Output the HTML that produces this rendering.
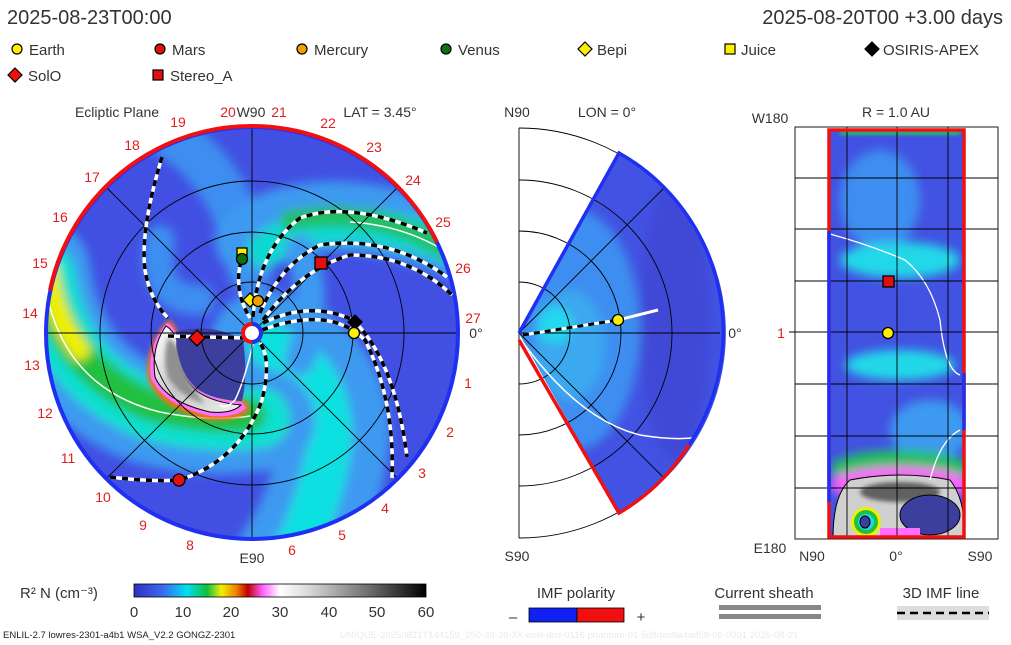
<!DOCTYPE html>
<html><head><meta charset="utf-8"><style>
html,body{margin:0;padding:0;background:#fff;}
svg{display:block;font-family:"Liberation Sans",sans-serif;}
</style></head><body>
<svg width="1011" height="645" viewBox="0 0 1011 645" xmlns="http://www.w3.org/2000/svg">
<defs>
<clipPath id="cc"><circle cx="252" cy="333" r="206"/></clipPath>
<clipPath id="wc"><path d="M519 333 L619 153 A205 205 0 0 1 619 513 Z"/></clipPath>
<clipPath id="rc"><rect x="828" y="129" width="137" height="409"/></clipPath>
<filter id="bl" x="-20%" y="-20%" width="140%" height="140%"><feGaussianBlur stdDeviation="5"/></filter>
<filter id="bl2" x="-20%" y="-20%" width="140%" height="140%"><feGaussianBlur stdDeviation="2"/></filter>
<linearGradient id="cb" x1="0" x2="1">
<stop offset="0" stop-color="#3030c0"/><stop offset="0.1" stop-color="#3a6af0"/><stop offset="0.18" stop-color="#00e0f0"/><stop offset="0.25" stop-color="#10c040"/><stop offset="0.3" stop-color="#f0f000"/><stop offset="0.35" stop-color="#f08000"/><stop offset="0.39" stop-color="#c00000"/><stop offset="0.44" stop-color="#ff60ff"/><stop offset="0.5" stop-color="#ffffff"/><stop offset="0.6" stop-color="#d8d8d8"/><stop offset="0.8" stop-color="#707070"/><stop offset="1" stop-color="#000"/>
</linearGradient>
<linearGradient id="cr" x1="0" y1="0" x2="1" y2="1">
<stop offset="0" stop-color="#ffffff"/><stop offset="0.5" stop-color="#c8c8c8"/><stop offset="1" stop-color="#f0f0f0"/>
</linearGradient>
</defs>
<g fill="#333" font-size="20">
<text x="7" y="24">2025-08-23T00:00</text>
<text x="1003" y="24" text-anchor="end">2025-08-20T00 +3.00 days</text>
</g>
<g font-size="15" fill="#222" stroke="#000" stroke-width="1.2">
<circle cx="17" cy="49" r="5" fill="#ffee00"/><circle cx="160" cy="49" r="5" fill="#e01010"/><circle cx="302" cy="49" r="5" fill="#f0a000"/><circle cx="446" cy="49" r="5" fill="#107010"/>
<path d="M585 42 L592 49 L585 56 L578 49Z" fill="#ffee00"/><rect x="725" y="44" width="10" height="10" fill="#ffee00"/><path d="M872 42 L879 49 L872 56 L865 49Z" fill="#000"/>
<path d="M15 68 L22 75 L15 82 L8 75Z" fill="#f01010"/><rect x="153" y="70" width="10" height="10" fill="#e01010"/>
</g>
<g font-size="15" fill="#333">
<text x="29" y="55">Earth</text><text x="172" y="55">Mars</text><text x="314" y="55">Mercury</text><text x="458" y="55">Venus</text><text x="597" y="55">Bepi</text><text x="741" y="55">Juice</text><text x="883" y="55">OSIRIS-APEX</text>
<text x="28" y="81">SolO</text><text x="170" y="81">Stereo_A</text>
</g>

<!-- LEFT PANEL -->
<g clip-path="url(#cc)">
<circle cx="252" cy="333" r="207" fill="#4150e2"/>
<g filter="url(#bl)" fill="none" stroke-linecap="round">
<path d="M160 130 Q235 170 250 270" stroke="#3e8ef0" stroke-width="45"/>
<path d="M250 240 Q320 190 460 245" stroke="#3e9af0" stroke-width="70"/>
<path d="M265 250 Q330 200 460 250" stroke="#10d8d0" stroke-width="35"/>
<path d="M290 220 Q380 205 455 255" stroke="#20c060" stroke-width="20"/>
<path d="M265 345 Q335 365 335 440 Q325 510 290 560" stroke="#3e9af0" stroke-width="110"/>
<path d="M270 345 Q330 370 330 440 Q320 510 290 560" stroke="#10e0e0" stroke-width="45"/>
<path d="M300 360 Q320 300 300 250" stroke="#3e9af0" stroke-width="30"/>
<path d="M40 270 Q55 380 150 415 Q210 430 265 420" stroke="#3e9af0" stroke-width="100"/>
<path d="M45 275 Q60 375 150 410 Q210 425 260 418" stroke="#10e0d0" stroke-width="60"/>
<path d="M45 280 Q65 370 150 405 Q205 420 250 415" stroke="#20c040" stroke-width="32"/>
<path d="M48 270 Q55 320 80 350" stroke="#f0f000" stroke-width="20"/>
<path d="M160 240 Q150 300 200 300" stroke="#3e8ef0" stroke-width="30"/>
</g>
<path d="M48 300 Q70 390 160 412 Q210 422 250 416" fill="none" stroke="#fff" stroke-width="1.5"/>
<path d="M350 222 Q400 225 440 248" fill="none" stroke="#fff" stroke-width="1.5"/>
<!-- CME -->
<path d="M168 320 Q144 345 148 380 Q160 410 210 420 Q238 422 250 410 L246 400 Q220 402 200 392 Q175 375 178 335 Q175 322 168 320Z" fill="#f07020" filter="url(#bl2)"/>
<path d="M167 323 Q147 345 151 378 Q163 405 210 416 Q236 418 246 408 L242 402 Q215 400 198 390 Q176 372 178 338 Q174 326 167 323Z" fill="#ff70ff"/>
<path d="M166 326 Q151 347 155 377 Q166 402 210 412 Q232 414 241 405 Q215 403 198 392 Q175 373 177 340 Q173 330 166 326Z" fill="url(#cr)" stroke="#000" stroke-width="1"/>
<path d="M168 338 Q162 360 168 378 Q180 396 205 404 Q188 385 184 365 Q180 345 168 338Z" fill="#909090" filter="url(#bl2)"/>
<path d="M176 332 Q210 322 243 340 Q248 375 242 401 Q212 400 196 388 Q176 370 176 332Z" fill="#3c3f9e"/>
<path d="M255 335 Q245 380 235 400 Q225 410 220 405" fill="none" stroke="#fff" stroke-width="1.5"/>
</g>
<!-- grid -->
<g fill="none" stroke="#000" stroke-width="0.9">
<circle cx="252" cy="333" r="51"/><circle cx="252" cy="333" r="101"/><circle cx="252" cy="333" r="152"/>
<line x1="45" y1="333" x2="459" y2="333"/><line x1="252" y1="126" x2="252" y2="540"/>
<line x1="106" y1="187" x2="398" y2="479"/><line x1="106" y1="479" x2="398" y2="187"/>
</g>
<circle cx="252" cy="333" r="206" fill="none" stroke="#2030f0" stroke-width="4"/>
<path d="M50 290 A206 206 0 0 1 437 242" fill="none" stroke="#f01010" stroke-width="4"/>
<g fill="none" stroke-width="3.5">
<g stroke="#fff">
<path d="M162 157 Q140 230 145 270 Q150 300 168 318"/>
<path d="M168 336 L243 338"/>
<path d="M110 477 Q150 482 180 480 Q240 460 262 400 Q272 360 260 343"/>
<path d="M245 250 Q230 285 250 318"/>
<path d="M253 317 Q258 250 300 218 Q350 200 427 233"/>
<path d="M260 313 Q280 265 320 245 Q390 235 447 277"/>
<path d="M263 320 Q300 270 350 255 Q410 255 452 295"/>
<path d="M263 323 Q310 300 353 320 Q395 360 407 457"/>
<path d="M262 330 Q330 305 365 340 Q395 400 392 478"/>
</g>
<g stroke="#000" stroke-dasharray="6 6">
<path d="M162 157 Q140 230 145 270 Q150 300 168 318"/>
<path d="M168 336 L243 338"/>
<path d="M110 477 Q150 482 180 480 Q240 460 262 400 Q272 360 260 343"/>
<path d="M245 250 Q230 285 250 318"/>
<path d="M253 317 Q258 250 300 218 Q350 200 427 233"/>
<path d="M260 313 Q280 265 320 245 Q390 235 447 277"/>
<path d="M263 320 Q300 270 350 255 Q410 255 452 295"/>
<path d="M263 323 Q310 300 353 320 Q395 360 407 457"/>
<path d="M262 330 Q330 305 365 340 Q395 400 392 478"/>
</g>
</g>
<circle cx="252" cy="333" r="9" fill="#fff" stroke="#f01010" stroke-width="4"/>
<path d="M252 324 A9 9 0 0 1 252 342" fill="none" stroke="#2030f0" stroke-width="4"/>
<g stroke="#000" stroke-width="1.3">
<rect x="237" y="248" width="10" height="9" fill="#ffee00"/>
<circle cx="242" cy="259" r="5.5" fill="#107010"/>
<path d="M250 293 L257 300 L250 307 L243 300Z" fill="#ffee00"/>
<circle cx="258" cy="301" r="5.5" fill="#f0a000"/>
<path d="M355 315 L362 322 L355 329 L348 322Z" fill="#000"/>
<circle cx="354" cy="333" r="5.5" fill="#ffee00"/>
<rect x="315" y="257" width="12" height="12" fill="#e01010"/>
<path d="M197 330 L205 338 L197 346 L189 338Z" fill="#f01010"/>
<circle cx="179" cy="480" r="6" fill="#e01010"/>
</g>
<g font-size="14" fill="#e02020" text-anchor="middle">
<text x="228" y="117">20</text><text x="279" y="117">21</text><text x="328" y="128">22</text><text x="374" y="152">23</text><text x="413" y="185">24</text><text x="443" y="227">25</text><text x="463" y="273">26</text><text x="473" y="323">27</text>
<text x="468" y="388">1</text><text x="450" y="437">2</text><text x="422" y="478">3</text><text x="385" y="513">4</text><text x="342" y="540">5</text><text x="292" y="555">6</text>
<text x="190" y="550">8</text><text x="143" y="530">9</text><text x="103" y="502">10</text><text x="68" y="463">11</text><text x="45" y="418">12</text><text x="32" y="370">13</text><text x="30" y="318">14</text><text x="40" y="268">15</text><text x="60" y="222">16</text><text x="92" y="182">17</text><text x="132" y="150">18</text><text x="178" y="127">19</text>
</g>
<g font-size="14" fill="#333" text-anchor="middle">
<text x="117" y="117">Ecliptic Plane</text><text x="251" y="117">W90</text><text x="380" y="117">LAT = 3.45°</text>
<text x="252" y="563">E90</text><text x="476" y="338">0°</text>
</g>

<!-- MIDDLE PANEL -->
<g fill="none" stroke="#000" stroke-width="0.9">
<path d="M519 282 A51 51 0 0 1 519 384"/><path d="M519 231 A102 102 0 0 1 519 435"/><path d="M519 180 A153 153 0 0 1 519 486"/><path d="M519 128 A205 205 0 0 1 519 538"/>
<line x1="519" y1="128" x2="519" y2="538"/>
</g>
<g clip-path="url(#wc)">
<rect x="510" y="140" width="220" height="390" fill="#4252e2"/>
<g filter="url(#bl)">
<ellipse cx="575" cy="330" rx="65" ry="120" fill="#3e8ef0"/>
<ellipse cx="570" cy="345" rx="35" ry="55" fill="#3aa8f0"/>
<ellipse cx="555" cy="325" rx="18" ry="18" fill="#20d8f0"/>
<ellipse cx="675" cy="320" rx="35" ry="140" fill="#3f4ad6"/>
</g>
<g fill="none" stroke="#000" stroke-width="0.9">
<circle cx="519" cy="333" r="51"/><circle cx="519" cy="333" r="102"/><circle cx="519" cy="333" r="153"/>
<line x1="519" y1="333" x2="720" y2="333"/>
<line x1="519" y1="333" x2="665" y2="187"/><line x1="519" y1="333" x2="665" y2="479"/>
</g>
<path d="M525 345 Q580 420 640 435 Q670 440 692 438" fill="none" stroke="#fff" stroke-width="1.5"/>
</g>
<path d="M519 333 L619 153 A205 205 0 0 1 689 445" fill="none" stroke="#2030f0" stroke-width="3.5"/>
<path d="M689 445 A205 205 0 0 1 619 513 L519 340" fill="none" stroke="#f01010" stroke-width="3.5"/>
<path d="M523 335 L618 320 L658 310" fill="none" stroke="#fff" stroke-width="3"/>
<path d="M523 335 L618 320" fill="none" stroke="#000" stroke-width="3" stroke-dasharray="6 5"/>
<circle cx="618" cy="320" r="5.5" fill="#ffee00" stroke="#000" stroke-width="1.3"/>
<g font-size="14" fill="#333" text-anchor="middle">
<text x="517" y="117">N90</text><text x="607" y="117">LON = 0°</text><text x="517" y="561">S90</text><text x="735" y="338">0°</text>
</g>

<!-- RIGHT PANEL -->
<g clip-path="url(#rc)">
<rect x="828" y="129" width="137" height="409" fill="#4252e2"/>
<g filter="url(#bl)">
<ellipse cx="880" cy="200" rx="40" ry="50" fill="#3e8ef0"/>
<ellipse cx="900" cy="260" rx="60" ry="18" fill="#20d8e8"/>
<ellipse cx="900" cy="365" rx="55" ry="15" fill="#20d8e8"/>
<ellipse cx="930" cy="430" rx="40" ry="30" fill="#3e9af0"/>
<ellipse cx="900" cy="468" rx="70" ry="18" fill="#20c060"/>
<ellipse cx="900" cy="485" rx="70" ry="18" fill="#ff60ff"/>
</g>
<path d="M833 538 Q833 495 850 480 Q900 470 950 480 Q966 500 964 538Z" fill="#d0d0d0" stroke="#000" stroke-width="1"/>
<ellipse cx="900" cy="492" rx="40" ry="10" fill="#606060" filter="url(#bl2)"/>
<circle cx="866" cy="522" r="15" fill="#f0f000"/>
<circle cx="866" cy="522" r="12" fill="#20c040"/>
<circle cx="866" cy="522" r="8" fill="#20d8e8"/>
<ellipse cx="865" cy="522" rx="5" ry="6" fill="#3c3f9e" stroke="#000"/>
<ellipse cx="930" cy="515" rx="30" ry="20" fill="#3c3f9e" stroke="#000" stroke-width="1"/>
<rect x="880" y="528" width="40" height="10" fill="#ff70ff"/>
<path d="M830 234 Q870 245 905 260 Q930 280 940 320 Q945 370 960 375" fill="none" stroke="#fff" stroke-width="1.3"/>
<path d="M930 480 Q940 440 960 430" fill="none" stroke="#fff" stroke-width="1.3"/>
<rect x="840" y="129" width="120" height="6" fill="#20c060" filter="url(#bl2)"/>
</g>
<g fill="none" stroke="#000" stroke-width="0.9">
<rect x="795" y="127" width="203" height="412"/>
<line x1="795" y1="178" x2="998" y2="178"/><line x1="795" y1="229" x2="998" y2="229"/><line x1="795" y1="281" x2="998" y2="281"/><line x1="789" y1="332" x2="998" y2="332"/><line x1="795" y1="384" x2="998" y2="384"/><line x1="795" y1="436" x2="998" y2="436"/><line x1="795" y1="488" x2="998" y2="488"/>
<line x1="847" y1="127" x2="847" y2="539"/><line x1="897" y1="127" x2="897" y2="539"/><line x1="948" y1="127" x2="948" y2="539"/>
</g>
<rect x="829" y="130" width="135" height="407" fill="none" stroke="#f01010" stroke-width="3.5"/>
<line x1="829" y1="231" x2="829" y2="502" stroke="#2030f0" stroke-width="3.5"/>
<line x1="964" y1="373" x2="964" y2="430" stroke="#2030f0" stroke-width="3.5"/>
<rect x="883" y="276" width="11" height="11" fill="#e01010" stroke="#000" stroke-width="1.3"/>
<circle cx="888" cy="333" r="5.5" fill="#ffee00" stroke="#000" stroke-width="1.3"/>
<g font-size="14" fill="#333" text-anchor="middle">
<text x="896" y="117">R = 1.0 AU</text><text x="770" y="123">W180</text><text x="770" y="553">E180</text>
<text x="812" y="561">N90</text><text x="896" y="561">0°</text><text x="980" y="561">S90</text>
</g>
<text x="781" y="338" font-size="14" fill="#e02020" text-anchor="middle">1</text>

<!-- BOTTOM -->
<text x="20" y="598" font-size="15" fill="#333">R² N (cm⁻³)</text>
<rect x="134" y="584" width="292" height="13" fill="url(#cb)" stroke="#000" stroke-width="0.8"/>
<g font-size="15" fill="#333" text-anchor="middle">
<text x="134" y="617">0</text><text x="183" y="617">10</text><text x="231" y="617">20</text><text x="280" y="617">30</text><text x="329" y="617">40</text><text x="377" y="617">50</text><text x="426" y="617">60</text>
<text x="576" y="598">IMF polarity</text><text x="764" y="598">Current sheath</text><text x="941" y="598">3D IMF line</text>
<text x="513" y="622">–</text><text x="641" y="622">+</text>
</g>
<rect x="529" y="608" width="48" height="14" fill="#1020f0" stroke="#000" stroke-width="0.8"/>
<rect x="577" y="608" width="47" height="14" fill="#f01010" stroke="#000" stroke-width="0.8"/>
<rect x="719" y="605" width="102" height="5" fill="#888"/><rect x="719" y="614" width="102" height="5" fill="#888"/>
<rect x="897" y="606" width="92" height="14" fill="#ddd"/>
<line x1="897" y1="613" x2="989" y2="613" stroke="#000" stroke-width="2.5" stroke-dasharray="8 5"/>
<text x="3" y="638" font-size="9.5" fill="#222">ENLIL-2.7 lowres-2301-a4b1 WSA_V2.2 GONGZ-2301</text>
<text x="340" y="638" font-size="9.5" fill="#eaeaea">UNIQUE-20250821T144159_250-38-39-3X-enlil-dist-0116 phantom-01 5d8dec8a4ad58-06-0001   2025-08-21</text>
</svg>
</body></html>
